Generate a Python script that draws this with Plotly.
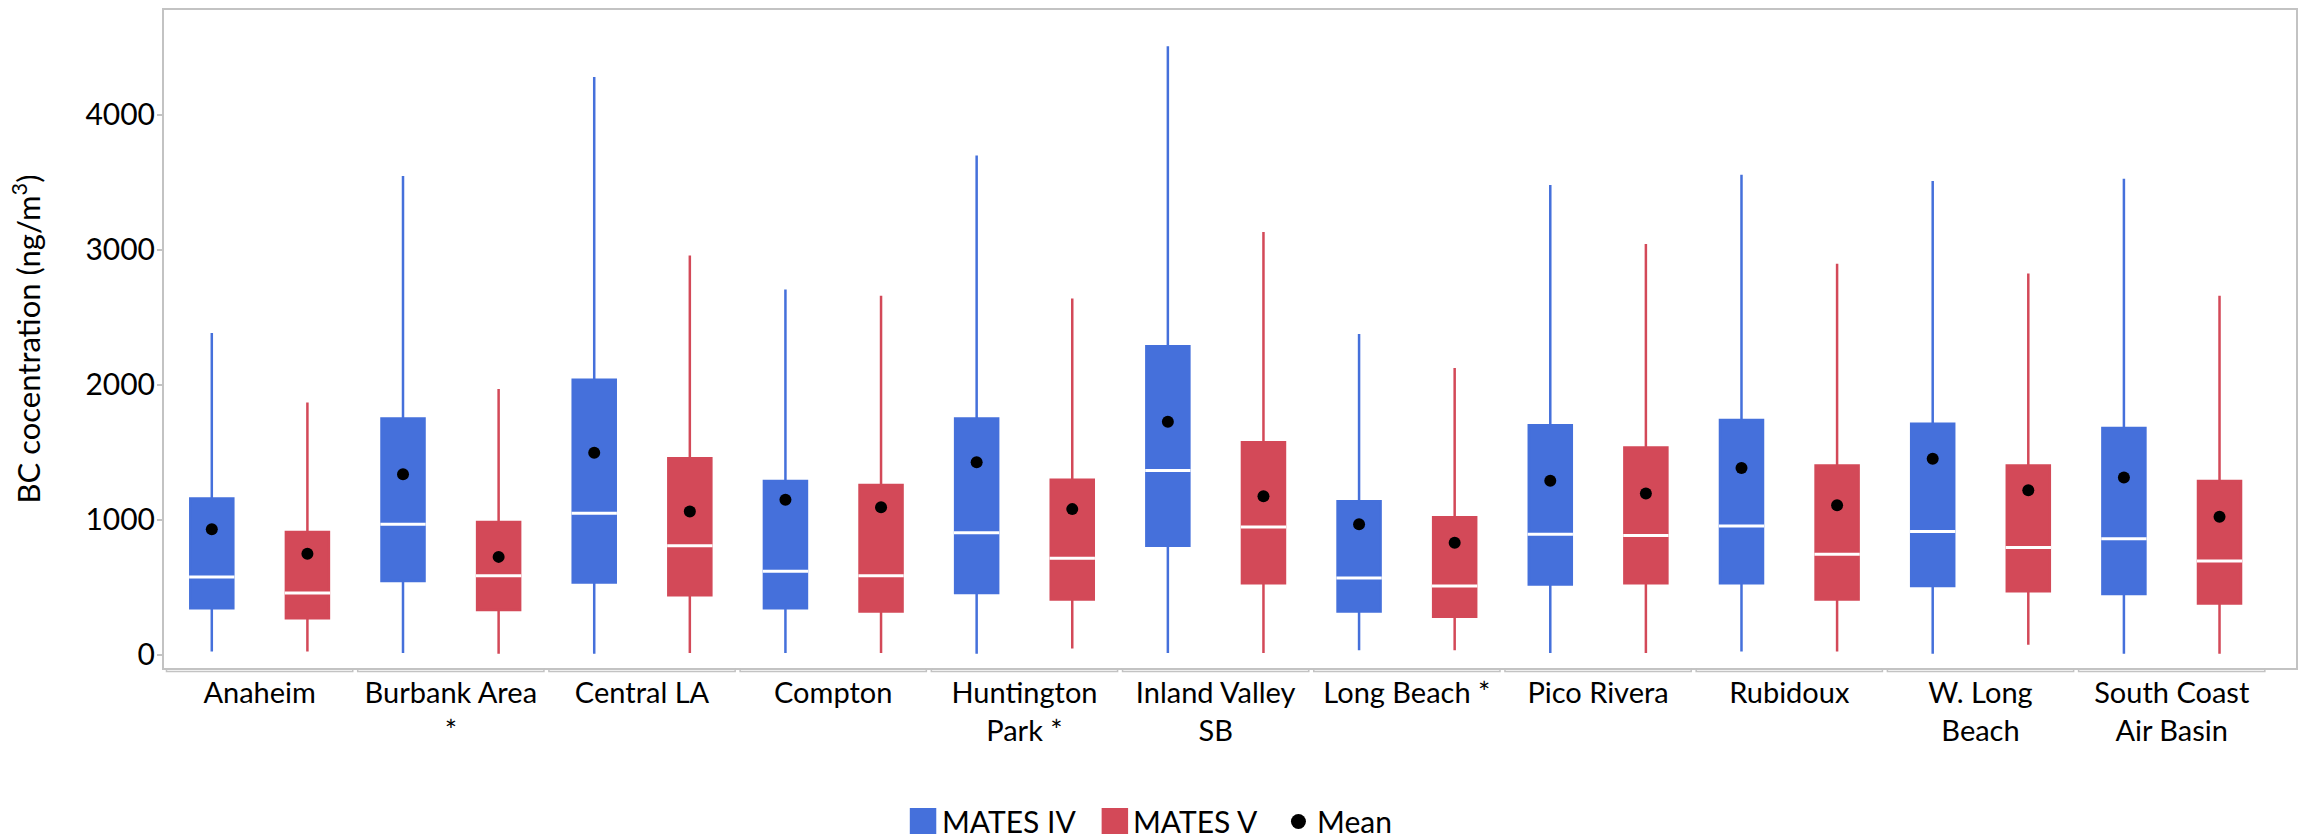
import plotly.graph_objects as go

# Monitoring sites (tick labels, with line breaks as printed)
sites = ["Anaheim", "Burbank Area<br>*", "Central LA", "Compton", "Huntington<br>Park *",
         "Inland Valley<br>SB", "Long Beach *", "Pico Rivera", "Rubidoux",
         "W. Long<br>Beach", "South Coast<br>Air Basin"]

# MATES IV box statistics (ng/m3)
iv_low = [23, 13, 7, 13, 7, 13, 33, 13, 23, 7, 7]
iv_q1 = [344, 546, 536, 344, 457, 807, 321, 520, 529, 510, 450]
iv_med = [576, 966, 1049, 619, 903, 1366, 569, 893, 953, 913, 860]
iv_q3 = [1158, 1750, 2038, 1287, 1750, 2286, 1138, 1701, 1740, 1711, 1681]
iv_high = [2385, 3547, 4281, 2707, 3699, 4510, 2376, 3481, 3557, 3510, 3527]
iv_mean = [930, 1337, 1496, 1148, 1426, 1727, 966, 1290, 1383, 1453, 1313]

# MATES V box statistics (ng/m3)
v_low = [23, 7, 13, 13, 46, 13, 33, 13, 23, 73, 7]
v_q1 = [271, 331, 440, 321, 410, 529, 281, 529, 410, 470, 380]
v_med = [457, 586, 807, 586, 715, 946, 510, 883, 744, 794, 695]
v_q3 = [910, 983, 1456, 1257, 1297, 1575, 1019, 1535, 1403, 1403, 1287]
v_high = [1869, 1969, 2958, 2660, 2640, 3133, 2124, 3044, 2898, 2826, 2660]
v_mean = [748, 725, 1062, 1092, 1079, 1174, 830, 1194, 1108, 1218, 1022]

y_ticks = [0, 1000, 2000, 3000, 4000]

BLUE = "#4570DB"
RED = "#D34958"
FRAME = "#c3c3c3"
FONT = "Lato"

OFFSET = 0.25      # distance of each box from the category centre
BOX_W = 0.225      # box width in category units

n = len(sites)
fig = go.Figure()


def add_group(xs, low, q1, med, q3, high, mean, color, name):
    fig.add_trace(go.Box(
        x=xs, lowerfence=low, q1=q1, median=med, q3=q3, upperfence=high,
        name=name, width=BOX_W, whiskerwidth=0,
        fillcolor=color, line=dict(color=color, width=2.5),
        boxpoints=False, showlegend=False, hoverinfo="skip",
    ))
    # white median bars
    mx, my = [], []
    for x, m in zip(xs, med):
        mx += [x - BOX_W / 2 - 0.006, x + BOX_W / 2 + 0.006, None]
        my += [m, m, None]
    fig.add_trace(go.Scatter(x=mx, y=my, mode="lines",
                             line=dict(color="white", width=3),
                             showlegend=False, hoverinfo="skip"))
    # mean markers
    fig.add_trace(go.Scatter(x=xs, y=mean, mode="markers",
                             marker=dict(color="black", size=12),
                             showlegend=False, hoverinfo="skip"))


add_group([i - OFFSET for i in range(n)], iv_low, iv_q1, iv_med, iv_q3, iv_high, iv_mean, BLUE, "MATES IV")
add_group([i + OFFSET for i in range(n)], v_low, v_q1, v_med, v_q3, v_high, v_mean, RED, "MATES V")

# category brackets under the frame
shapes = []
for i in range(n):
    a, b = i - 0.487, i + 0.487
    shapes.append(dict(type="path", xref="x", yref="paper",
                       path=f"M {a},0 L {a},-0.0055 L {b},-0.0055 L {b},0",
                       line=dict(color=FRAME, width=1.5)))

# legend drawn below the plot
W_PLOT, H_PLOT, L, T = 2134, 658, 164, 10


def px(xp):
    return (xp - L) / W_PLOT


def py(yp):
    return 1 - (yp - T) / H_PLOT


legend_items = [("MATES IV", BLUE, 910.5, 941), ("MATES V", RED, 1102.5, 1132)]
annotations = []
for label, color, sx, tx in legend_items:
    shapes.append(dict(type="rect", xref="paper", yref="paper",
                       x0=px(sx), x1=px(sx + 26.5), y0=py(834), y1=py(808),
                       fillcolor=color, line=dict(width=0)))
    annotations.append(dict(text=label, xref="paper", yref="paper", x=px(tx), y=py(821),
                            xanchor="left", yanchor="middle", showarrow=False,
                            font=dict(family=FONT, size=30, color="black")))
shapes.append(dict(type="circle", xref="paper", yref="paper",
                   x0=px(1292), x1=px(1307), y0=py(829), y1=py(814),
                   fillcolor="black", line=dict(width=0)))
annotations.append(dict(text="Mean", xref="paper", yref="paper", x=px(1316), y=py(821),
                        xanchor="left", yanchor="middle", showarrow=False,
                        font=dict(family=FONT, size=30, color="black")))

fig.update_layout(
    width=2303, height=838,
    margin=dict(l=L, r=5, t=T, b=170),
    paper_bgcolor="white", plot_bgcolor="white",
    font=dict(family=FONT, size=30, color="black"),
    showlegend=False,
    shapes=shapes, annotations=annotations,
    xaxis=dict(range=[-0.5, 10.65], tickvals=list(range(n)), ticktext=sites,
               showgrid=False, zeroline=False, showline=True, mirror=True,
               linecolor=FRAME, linewidth=2, ticks="", ticklabelstandoff=-2,
               tickfont=dict(family=FONT, size=29, color="black")),
    yaxis=dict(range=[-98.5, 4778], tickvals=y_ticks, ticktext=[str(v) for v in y_ticks],
               showgrid=False, zeroline=False, showline=True, mirror=True,
               linecolor=FRAME, linewidth=2, ticks="outside", ticklen=5,
               tickcolor=FRAME, tickwidth=1.5, ticklabelstandoff=-4,
               tickfont=dict(family=FONT, size=30, color="black"),
               title=dict(text="BC cocentration (ng/m<sup>3</sup>)", standoff=36,
                          font=dict(family=FONT, size=31, color="black"))),
)

fig.write_html("out.html")
